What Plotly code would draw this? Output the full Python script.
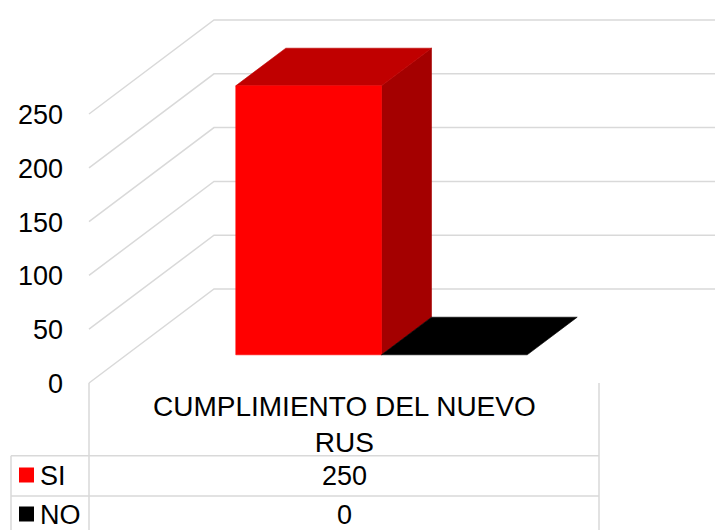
import plotly.graph_objects as go

# ---------------- data ----------------
CATEGORIES = ["CUMPLIMIENTO DEL NUEVO<br>RUS"]
SERIES_NAMES = ["SI", "NO"]
SERIES_VALUES = [[250], [0]]
TICKS = [0, 50, 100, 150, 200, 250]

# ---------------- styling / geometry ----------------
W, H = 715, 530
FONT = "Liberation Sans, Arial, sans-serif"
FS = 27
FS_HEADER = 28
GRID = "#D9D9D9"
FACE_COLORS = {
    "SI": {"front": "#FF0000", "top": "#C00000", "side": "#A40000"},
    "NO": {"front": "#000000", "top": "#000000", "side": "#000000"},
}
KEY_COLORS = {"SI": "#FF0000", "NO": "#000000"}

X0_PX = 89.0          # front-left corner of the floor (pixels)
CAT_PX = 510.0        # width of one category on the front plane
ZERO_PX = 383.0       # value 0 on the front plane
PX_PER_UNIT = (383.0 - 114.0) / 250.0
DEPTH_DX_PX, DEPTH_DY_PX = 125.0, 94.0
GAP_WIDTH = 1.5       # Excel gap width 150%
GAP_DEPTH = 1.5       # Excel gap depth 150%

x_range = [-X0_PX / CAT_PX, (W - X0_PX) / CAT_PX]
y_range = [-(H - ZERO_PX) / PX_PER_UNIT, ZERO_PX / PX_PER_UNIT]
DX = DEPTH_DX_PX / CAT_PX
DY = DEPTH_DY_PX / PX_PER_UNIT

n_series = len(SERIES_NAMES)
bar_w = 1.0 / (n_series + GAP_WIDTH)
gap = GAP_WIDTH * bar_w / 2
bar_d = 1.0 / (1 + GAP_DEPTH)
d0 = GAP_DEPTH * bar_d / 2
d1 = d0 + bar_d


def proj(u, v, d):
    return u + d * DX, v + d * DY


def py(px):
    return 1 - px / H


def pxx(px):
    return px / W


fig = go.Figure()

# perspective gridlines (left wall + back wall)
for t in TICKS:
    pts = [proj(0, t, 0), proj(0, t, 1), proj(len(CATEGORIES) + 0.2, t, 1)]
    fig.add_trace(go.Scatter(
        x=[p[0] for p in pts], y=[p[1] for p in pts], mode="lines",
        line=dict(color=GRID, width=1.5), hoverinfo="skip", showlegend=False))


def poly(pts, color, name, val):
    xs = [p[0] for p in pts] + [pts[0][0]]
    ys = [p[1] for p in pts] + [pts[0][1]]
    fig.add_trace(go.Scatter(
        x=xs, y=ys, mode="lines", fill="toself", fillcolor=color,
        line=dict(color=color, width=0.6), name=name,
        hovertemplate=f"{name}: {val}<extra></extra>", showlegend=False))


# 3D columns
for ci in range(len(CATEGORIES)):
    for si, name in enumerate(SERIES_NAMES):
        val = SERIES_VALUES[si][ci]
        uL = ci + gap + si * bar_w
        uR = uL + bar_w
        c = FACE_COLORS[name]
        if val > 0:
            poly([proj(uR, 0, d0), proj(uR, 0, d1), proj(uR, val, d1), proj(uR, val, d0)],
                 c["side"], name, val)
        poly([proj(uL, val, d0), proj(uR, val, d0), proj(uR, val, d1), proj(uL, val, d1)],
             c["top"], name, val)
        if val > 0:
            poly([proj(uL, 0, d0), proj(uR, 0, d0), proj(uR, val, d0), proj(uL, val, d0)],
                 c["front"], name, val)

# value axis tick labels (front plane)
annotations = []
for t in TICKS:
    annotations.append(dict(
        x=0, y=t, xref="x", yref="y", text=str(t), showarrow=False,
        xanchor="right", yanchor="middle", xshift=-24, yshift=-1,
        font=dict(family=FONT, size=FS, color="#000000")))

# data table
shapes = []
line_style = dict(color=GRID, width=1.5)
ROW1_PX, ROW2_PX, LEFT_PX = 455.7, 496.0, 11.0
n_cat = len(CATEGORIES)
for k in range(n_cat + 1):
    shapes.append(dict(type="line", xref="x", yref="y", x0=k, x1=k,
                       y0=0, y1=y_range[0], line=line_style))
shapes.append(dict(type="line", xref="paper", yref="paper", x0=pxx(LEFT_PX), x1=pxx(LEFT_PX),
                   y0=py(ROW1_PX), y1=0, line=line_style))
for rpx in (ROW1_PX, ROW2_PX):
    shapes.append(dict(type="line", xref="paper", yref="paper", x0=pxx(LEFT_PX),
                       x1=(n_cat - x_range[0]) / (x_range[1] - x_range[0]),
                       y0=py(rpx), y1=py(rpx), line=line_style))

for ci, cat in enumerate(CATEGORIES):
    annotations.append(dict(
        x=ci + 0.5, y=py(424), xref="x", yref="paper", text=cat, showarrow=False,
        xanchor="center", yanchor="middle", align="center",
        font=dict(family=FONT, size=FS_HEADER, color="#000000")))

row_centers = [476.0, 515.0]
for si, name in enumerate(SERIES_NAMES):
    yc = row_centers[si]
    shapes.append(dict(type="rect", xref="paper", yref="paper",
                       x0=pxx(19), x1=pxx(34), y0=py(yc - 8.5), y1=py(yc + 6.5),
                       fillcolor=KEY_COLORS[name], line=dict(width=0)))
    annotations.append(dict(
        x=pxx(38), y=py(yc), xref="paper", yref="paper", text=name, showarrow=False,
        xanchor="left", yanchor="middle",
        font=dict(family=FONT, size=FS, color="#000000")))
    for ci in range(n_cat):
        annotations.append(dict(
            x=ci + 0.5, y=py(yc), xref="x", yref="paper", text=str(SERIES_VALUES[si][ci]),
            showarrow=False, xanchor="center", yanchor="middle",
            font=dict(family=FONT, size=FS, color="#000000")))

fig.update_layout(
    width=W, height=H, margin=dict(l=0, r=0, t=0, b=0),
    paper_bgcolor="white", plot_bgcolor="white",
    xaxis=dict(range=x_range, visible=False, fixedrange=True),
    yaxis=dict(range=y_range, visible=False, fixedrange=True),
    shapes=shapes, annotations=annotations, showlegend=False,
)

fig.write_html(
    "out.html",
    config={"displayModeBar": False},
    post_script="document.body.style.margin='0';document.body.style.overflow='hidden';",
)
